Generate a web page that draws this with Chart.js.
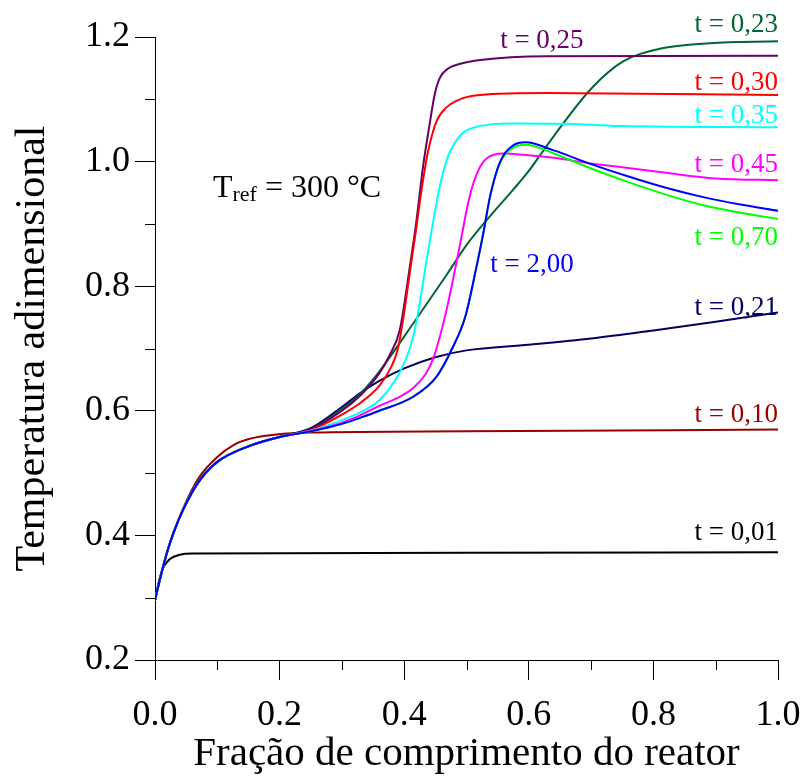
<!DOCTYPE html>
<html>
<head>
<meta charset="utf-8">
<script src="https://cdn.jsdelivr.net/npm/chart.js@4.4.0/dist/chart.umd.min.js"></script>
<style>
  html, body { margin: 0; padding: 0; background: #fff; }
  #wrap { width: 803px; height: 776px; }
</style>
</head>
<body>
<div id="wrap"><canvas id="tempChart" width="803" height="776"></canvas></div>
<script>
    // x = fração de comprimento, y = temperatura adimensional
    const startX = [0, 0.01, 0.02, 0.03, 0.045, 0.07, 0.1, 0.15, 0.2];
    const startY = [0.296, 0.338, 0.375, 0.405, 0.441, 0.486, 0.518, 0.543, 0.558];

    const t001X = [0, 0.006, 0.013, 0.024, 0.04, 0.06, 0.5, 1.0];
    const t001Y = [0.296, 0.325, 0.348, 0.362, 0.369, 0.371, 0.372, 0.373];

    const t010X = [0, 0.01, 0.02, 0.03, 0.045, 0.07, 0.1, 0.126, 0.152, 0.195, 0.25, 0.5, 1.0];
    const t010Y = [0.296, 0.338, 0.375, 0.405, 0.443, 0.492, 0.526, 0.545, 0.555, 0.562, 0.565, 0.567, 0.570];

    const t021X = [0.25, 0.3, 0.33, 0.36, 0.4, 0.45, 0.5, 0.6, 0.7, 0.8, 0.9, 1.0];
    const t021Y = [0.572, 0.606, 0.629, 0.648, 0.668, 0.686, 0.697, 0.706, 0.716, 0.729, 0.743, 0.758];

    const t023X = [0.25, 0.3, 0.33, 0.36, 0.415, 0.468, 0.5, 0.54, 0.575, 0.6, 0.62, 0.655, 0.7, 0.75, 0.81, 0.89, 1.0];
    const t023Y = [0.570, 0.603, 0.628, 0.663, 0.741, 0.818, 0.866, 0.915, 0.955, 0.985, 1.013, 1.061, 1.117, 1.160, 1.181, 1.190, 1.193];

    const t025X = [0.25, 0.3, 0.33, 0.36, 0.377, 0.393, 0.409, 0.419, 0.43, 0.441, 0.449, 0.457, 0.47, 0.49, 0.522, 0.629, 1.0];
    const t025Y = [0.570, 0.600, 0.625, 0.660, 0.690, 0.730, 0.831, 0.900, 0.990, 1.061, 1.108, 1.134, 1.149, 1.157, 1.163, 1.169, 1.170];

    const t030X = [0.25, 0.3, 0.33, 0.36, 0.38, 0.39, 0.398, 0.406, 0.413, 0.419, 0.425, 0.431, 0.438, 0.452, 0.468, 0.495, 0.522, 0.63, 1.0];
    const t030Y = [0.569, 0.594, 0.613, 0.640, 0.672, 0.700, 0.745, 0.800, 0.850, 0.890, 0.935, 0.975, 1.015, 1.065, 1.087, 1.102, 1.107, 1.110, 1.107];

    const t035X = [0.25, 0.3, 0.33, 0.36, 0.393, 0.409, 0.42, 0.436, 0.445, 0.455, 0.465, 0.474, 0.49, 0.506, 0.575, 0.68, 0.75, 1.0];
    const t035Y = [0.568, 0.585, 0.598, 0.617, 0.662, 0.700, 0.745, 0.842, 0.895, 0.950, 0.992, 1.017, 1.042, 1.053, 1.061, 1.060, 1.057, 1.055];

    const t045X = [0.25, 0.3, 0.33, 0.36, 0.39, 0.415, 0.435, 0.447, 0.468, 0.49, 0.503, 0.511, 0.522, 0.532, 0.559, 0.6, 0.64, 0.7, 0.75, 0.82, 0.9, 1.0];
    const t045Y = [0.568, 0.581, 0.593, 0.608, 0.621, 0.637, 0.660, 0.685, 0.762, 0.869, 0.935, 0.965, 0.992, 1.005, 1.013, 1.010, 1.006, 0.997, 0.991, 0.982, 0.973, 0.970];

    const t070X = [0.25, 0.3, 0.33, 0.36, 0.415, 0.452, 0.476, 0.498, 0.516, 0.527, 0.538, 0.554, 0.575, 0.595, 0.64, 0.7, 0.76, 0.82, 0.88, 0.94, 1.0];
    const t070Y = [0.567, 0.579, 0.589, 0.600, 0.623, 0.655, 0.698, 0.751, 0.831, 0.885, 0.945, 0.998, 1.022, 1.027, 1.013, 0.989, 0.967, 0.947, 0.930, 0.918, 0.908];

    const t200X = [0.25, 0.3, 0.33, 0.36, 0.415, 0.452, 0.476, 0.498, 0.516, 0.527, 0.538, 0.554, 0.575, 0.595, 0.64, 0.7, 0.76, 0.82, 0.88, 0.94, 1.0];
    const t200Y = [0.567, 0.579, 0.589, 0.600, 0.623, 0.655, 0.698, 0.751, 0.831, 0.885, 0.945, 1.000, 1.026, 1.031, 1.018, 0.996, 0.976, 0.958, 0.943, 0.931, 0.921];

    const xTicks = [0, 0.2, 0.4, 0.6, 0.8, 1.0];
    const yTicks = [0.2, 0.4, 0.6, 0.8, 1.0, 1.2];

    const SERIF = '"Liberation Serif", "Times New Roman", serif';

    function toPoints(xs, ys, withStart) {
        let px = xs, py = ys;
        if (withStart) {
            px = startX.concat(xs);
            py = startY.concat(ys);
        }
        return px.map((x, i) => ({ x: x, y: py[i] }));
    }

    // first dataset is drawn on top
    const series = [
        { label: 't = 2,00', data: toPoints(t200X, t200Y, true), color: '#0000ff' },
        { label: 't = 0,70', data: toPoints(t070X, t070Y, true), color: '#00ff00' },
        { label: 't = 0,45', data: toPoints(t045X, t045Y, true), color: '#ff00ff' },
        { label: 't = 0,35', data: toPoints(t035X, t035Y, true), color: '#00ffff' },
        { label: 't = 0,30', data: toPoints(t030X, t030Y, true), color: '#ff0000' },
        { label: 't = 0,25', data: toPoints(t025X, t025Y, true), color: '#660066' },
        { label: 't = 0,23', data: toPoints(t023X, t023Y, true), color: '#006633' },
        { label: 't = 0,21', data: toPoints(t021X, t021Y, true), color: '#000066' },
        { label: 't = 0,10', data: toPoints(t010X, t010Y, false), color: '#990000' },
        { label: 't = 0,01', data: toPoints(t001X, t001Y, false), color: '#000000' }
    ];

    const curveLabels = [
        { text: 't = 0,23', x: 1.0, y: 1.208, align: 'right', color: '#006633' },
        { text: 't = 0,25', x: 0.554, y: 1.182, align: 'left', color: '#660066' },
        { text: 't = 0,30', x: 1.0, y: 1.115, align: 'right', color: '#ff0000' },
        { text: 't = 0,35', x: 1.0, y: 1.062, align: 'right', color: '#00ffff' },
        { text: 't = 0,45', x: 1.0, y: 0.983, align: 'right', color: '#ff00ff' },
        { text: 't = 0,70', x: 1.0, y: 0.866, align: 'right', color: '#00ff00' },
        { text: 't = 2,00', x: 0.538, y: 0.823, align: 'left', color: '#0000ff' },
        { text: 't = 0,21', x: 1.0, y: 0.754, align: 'right', color: '#000066' },
        { text: 't = 0,10', x: 1.0, y: 0.582, align: 'right', color: '#990000' },
        { text: 't = 0,01', x: 1.0, y: 0.393, align: 'right', color: '#000000' }
    ];

    // rótulos das curvas, T_ref e marcas menores dos eixos
    const annotations = {
        id: 'annotations',
        afterDraw(chart) {
            const ctx = chart.ctx;
            const xs = chart.scales.x, ys = chart.scales.y;
            ctx.save();
            ctx.textBaseline = 'alphabetic';
            ctx.font = '27px ' + SERIF;
            curveLabels.forEach(l => {
                ctx.fillStyle = l.color;
                ctx.textAlign = l.align;
                ctx.fillText(l.text, xs.getPixelForValue(l.x), ys.getPixelForValue(l.y));
            });

            // T_ref = 300 °C
            let tx = xs.getPixelForValue(0.093);
            const ty = ys.getPixelForValue(0.943);
            ctx.fillStyle = '#000';
            ctx.textAlign = 'left';
            ctx.font = '32px ' + SERIF;
            ctx.fillText('T', tx, ty);
            tx += ctx.measureText('T').width;
            ctx.font = '22px ' + SERIF;
            ctx.fillText('ref', tx, ty + 4);
            tx += ctx.measureText('ref').width;
            ctx.font = '32px ' + SERIF;
            ctx.fillText(' = 300 °C', tx, ty);

            // minor ticks
            ctx.strokeStyle = '#000';
            ctx.lineWidth = 1;
            ctx.beginPath();
            [0.1, 0.3, 0.5, 0.7, 0.9].forEach(v => {
                const p = Math.round(xs.getPixelForValue(v)) + 0.5;
                ctx.moveTo(p, ys.bottom);
                ctx.lineTo(p, ys.bottom + 10);
            });
            [0.3, 0.5, 0.7, 0.9, 1.1].forEach(v => {
                const p = Math.round(ys.getPixelForValue(v)) + 0.5;
                ctx.moveTo(xs.left - 10, p);
                ctx.lineTo(xs.left, p);
            });
            ctx.stroke();
            ctx.restore();
        }
    };

    const ctx = document.getElementById('tempChart').getContext('2d');
    new Chart(ctx, {
        type: 'line',
        data: {
            datasets: series.map(s => ({
                label: s.label,
                data: s.data,
                borderColor: s.color,
                backgroundColor: s.color,
                borderWidth: 2,
                pointRadius: 0,
                fill: false,
                cubicInterpolationMode: 'monotone'
            }))
        },
        options: {
            responsive: false,
            animation: false,
            devicePixelRatio: 1,
            layout: { padding: { top: 37, right: 25, left: 0, bottom: 0 } },
            plugins: {
                legend: { display: false },
                tooltip: { enabled: false }
            },
            scales: {
                x: {
                    type: 'linear',
                    min: 0,
                    max: 1,
                    afterFit: s => { s.height = 116; s.paddingLeft = 0; s.paddingRight = 0; },
                    afterBuildTicks: s => { s.ticks = xTicks.map(v => ({ value: v })); },
                    grid: { drawOnChartArea: false, tickLength: 20, color: '#000', tickColor: '#000' },
                    border: { color: '#000', width: 1 },
                    ticks: {
                        color: '#000',
                        padding: 14,
                        maxRotation: 0,
                        font: { family: SERIF, size: 36 },
                        callback: v => v.toFixed(1)
                    },
                    title: {
                        display: true,
                        text: 'Fração de comprimento do reator',
                        color: '#000',
                        font: { family: SERIF, size: 41, lineHeight: 1 },
                        padding: { top: 0, bottom: 1 }
                    }
                },
                y: {
                    type: 'linear',
                    min: 0.2,
                    max: 1.2,
                    afterFit: s => { s.width = 155; s.paddingTop = 0; s.paddingBottom = 0; },
                    afterBuildTicks: s => { s.ticks = yTicks.map(v => ({ value: v })); },
                    grid: { drawOnChartArea: false, tickLength: 20, color: '#000', tickColor: '#000' },
                    border: { color: '#000', width: 1 },
                    ticks: {
                        color: '#000',
                        padding: 5,
                        font: { family: SERIF, size: 36 },
                        callback: v => v.toFixed(1)
                    },
                    title: {
                        display: true,
                        text: 'Temperatura adimensional',
                        color: '#000',
                        font: { family: SERIF, size: 42, lineHeight: 1 },
                        padding: { top: 12, bottom: 0 }
                    }
                }
            }
        },
        plugins: [annotations]
    });
</script>
</body>
</html>
